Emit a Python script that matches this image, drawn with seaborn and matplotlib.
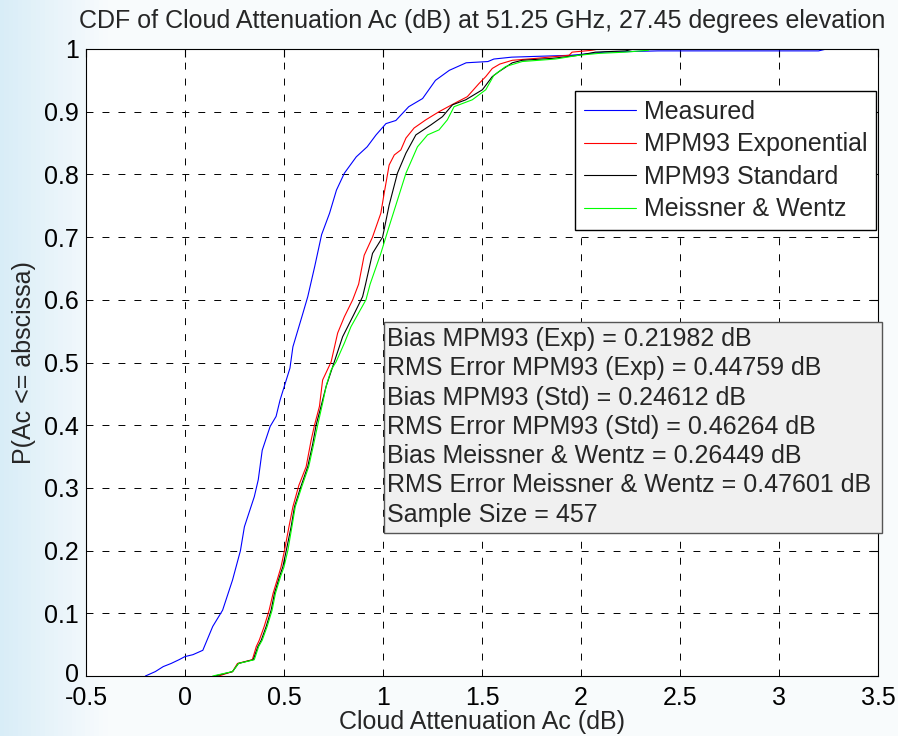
import matplotlib.pyplot as plt
import matplotlib.transforms as mtransforms
import numpy as np
import pandas as pd
import seaborn as sns
from matplotlib.patches import Rectangle

# values
series_names = ["Measured", "MPM93 Exponential", "MPM93 Standard", "Meissner & Wentz"]
series_colors = ["#0000ff", "#ff0000", "#000000", "#00ff00"]

measured_x = [-0.20, -0.15, -0.11, -0.07, -0.03, 0.0, 0.04, 0.09, 0.115, 0.14, 0.19,
              0.24, 0.28, 0.30, 0.35, 0.37, 0.39, 0.43, 0.46, 0.48, 0.53, 0.545, 0.595,
              0.62, 0.655, 0.69, 0.73, 0.765, 0.805, 0.865, 0.92, 0.965, 1.015, 1.065,
              1.13, 1.20, 1.265, 1.335, 1.42, 1.53, 1.56, 1.65, 1.95, 2.12, 2.39, 3.20, 3.24]
measured_p = [0.0, 0.007, 0.015, 0.020, 0.026, 0.031, 0.034, 0.041, 0.060, 0.079, 0.105,
              0.153, 0.200, 0.238, 0.286, 0.313, 0.360, 0.398, 0.414, 0.440, 0.491, 0.525, 0.578,
              0.605, 0.653, 0.704, 0.738, 0.775, 0.802, 0.828, 0.844, 0.863, 0.881, 0.886,
              0.908, 0.921, 0.950, 0.966, 0.978, 0.980, 0.984, 0.987, 0.990, 0.995, 0.997, 0.997, 1.0]

exp_x = [0.17, 0.24, 0.265, 0.34, 0.36, 0.375, 0.40, 0.425, 0.445, 0.47, 0.485, 0.503,
         0.525, 0.545, 0.575, 0.612, 0.637, 0.654, 0.679, 0.695, 0.738, 0.771, 0.805,
         0.847, 0.877, 0.905, 0.947, 0.989, 1.006, 1.031, 1.057, 1.09, 1.116, 1.157,
         1.216, 1.283, 1.359, 1.426, 1.485, 1.519, 1.552, 1.59, 1.653, 1.77, 1.94,
         1.955, 2.056, 2.09]
exp_p = [0.0, 0.007, 0.020, 0.026, 0.047, 0.057, 0.079, 0.105, 0.132, 0.158, 0.174, 0.201,
         0.238, 0.270, 0.304, 0.334, 0.376, 0.400, 0.430, 0.472, 0.501, 0.547, 0.573,
         0.600, 0.625, 0.671, 0.700, 0.738, 0.770, 0.815, 0.831, 0.839, 0.858, 0.874,
         0.887, 0.900, 0.913, 0.924, 0.945, 0.956, 0.969, 0.976, 0.982, 0.985, 0.990,
         0.995, 0.998, 1.0]

std_x = [0.15, 0.24, 0.27, 0.345, 0.368, 0.385, 0.41, 0.435, 0.452, 0.477, 0.494, 0.512,
         0.536, 0.553, 0.585, 0.62, 0.645, 0.662, 0.687, 0.712, 0.754, 0.796, 0.855,
         0.897, 0.912, 0.947, 0.998, 1.031, 1.073, 1.116, 1.166, 1.242, 1.30, 1.351,
         1.418, 1.502, 1.552, 1.586, 1.653, 1.703, 1.854, 1.989, 2.073, 2.224, 2.27]
std_p = [0.0, 0.007, 0.020, 0.026, 0.047, 0.057, 0.079, 0.105, 0.132, 0.158, 0.174, 0.201,
         0.238, 0.270, 0.302, 0.334, 0.370, 0.400, 0.430, 0.461, 0.501, 0.541, 0.578,
         0.605, 0.625, 0.674, 0.700, 0.751, 0.802, 0.834, 0.863, 0.879, 0.892, 0.911,
         0.919, 0.935, 0.956, 0.964, 0.978, 0.982, 0.985, 0.990, 0.995, 0.997, 1.0]

mw_x = [0.14, 0.24, 0.27, 0.35, 0.372, 0.39, 0.415, 0.44, 0.457, 0.482, 0.50, 0.52,
        0.54, 0.557, 0.59, 0.625, 0.65, 0.67, 0.695, 0.715, 0.738, 0.763, 0.805, 0.838,
        0.914, 0.935, 0.989, 1.031, 1.073, 1.116, 1.174, 1.225, 1.283, 1.325, 1.359,
        1.451, 1.519, 1.56, 1.619, 1.703, 1.871, 1.989, 2.09, 2.224, 2.34, 2.35]
mw_p = [0.0, 0.007, 0.020, 0.026, 0.047, 0.057, 0.079, 0.105, 0.132, 0.158, 0.174, 0.201,
        0.238, 0.270, 0.302, 0.334, 0.370, 0.400, 0.435, 0.465, 0.488, 0.501, 0.531, 0.557,
        0.600, 0.625, 0.674, 0.717, 0.759, 0.802, 0.844, 0.863, 0.871, 0.887, 0.908,
        0.919, 0.935, 0.958, 0.972, 0.980, 0.984, 0.990, 0.993, 0.995, 0.998, 1.0]

stats_lines = [
    "Bias MPM93 (Exp) = 0.21982 dB",
    "RMS Error MPM93 (Exp) = 0.44759 dB",
    "Bias MPM93 (Std) = 0.24612 dB",
    "RMS Error MPM93 (Std) = 0.46264 dB",
    "Bias Meissner & Wentz = 0.26449 dB",
    "RMS Error Meissner & Wentz = 0.47601 dB",
    "Sample Size = 457",
]

x_ticks = [-0.5, 0, 0.5, 1, 1.5, 2, 2.5, 3, 3.5]
x_tick_labels = ["-0.5", "0", "0.5", "1", "1.5", "2", "2.5", "3", "3.5"]
y_ticks = [0, 0.1, 0.2, 0.3, 0.4, 0.5, 0.6, 0.7, 0.8, 0.9, 1]
y_tick_labels = ["0", "0.1", "0.2", "0.3", "0.4", "0.5", "0.6", "0.7", "0.8", "0.9", "1"]

frames = []
for name, xs, ps in zip(series_names,
                        [measured_x, exp_x, std_x, mw_x],
                        [measured_p, exp_p, std_p, mw_p]):
    frames.append(pd.DataFrame({"x": xs, "p": ps, "model": name}))
df = pd.concat(frames, ignore_index=True)

sns.set_style("white")
plt.rcParams["font.family"] = ["Liberation Sans", "DejaVu Sans"]
plt.rcParams["lines.scale_dashes"] = False
fs = 18

fig = plt.figure(figsize=(8.98, 7.36), dpi=100)

# pale blurred backdrop like the original screenshot
bg = fig.add_axes([0, 0, 1, 1], zorder=-10)
gx = np.linspace(0, 1, 200)
shade = np.clip(1 - gx / 0.12, 0, 1)[None, :] * np.ones((50, 1))
base = np.array([0.975, 0.985, 0.992])
tint = np.array([0.85, 0.93, 0.97])
img = base[None, None, :] * (1 - shade[..., None]) + tint[None, None, :] * shade[..., None]
bg.imshow(img, aspect="auto", extent=[0, 1, 0, 1])
bg.axis("off")

ax = fig.add_axes([86 / 898, 60 / 736, 792 / 898, 627 / 736])
ax.set_facecolor("white")

sns.lineplot(data=df, x="x", y="p", hue="model", hue_order=series_names,
             palette=dict(zip(series_names, series_colors)), sort=False,
             estimator=None, linewidth=0.8, ax=ax, legend=False)

ax.set_xlim(-0.5, 3.5)
ax.set_ylim(0, 1)
ax.set_xticks(x_ticks)
ax.set_xticklabels(x_tick_labels)
ax.set_yticks(y_ticks)
ax.set_yticklabels(y_tick_labels)
ax.tick_params(direction="in", length=6, width=0.8, labelsize=fs, top=True, right=True,
               colors="black")
ax.tick_params(axis="x", pad=7)
ax.tick_params(axis="y", pad=5)
# lift the bottom "0" a little so it clears "-0.5", as in the original
zero_lbl = ax.get_yticklabels()[0]
zero_lbl.set_transform(zero_lbl.get_transform() +
                       mtransforms.ScaledTranslation(0, 4 / 100, fig.dpi_scale_trans))
ax.grid(True, color="black", linestyle=(0, (5, 6.5)), linewidth=0.7)
for s in ax.spines.values():
    s.set_color("black")
    s.set_linewidth(0.8)

ax.set_title("CDF of Cloud Attenuation Ac (dB) at 51.25 GHz, 27.45 degrees elevation",
             fontsize=fs, pad=15)
ax.set_xlabel("Cloud Attenuation Ac (dB)", fontsize=fs, labelpad=0)
ax.set_ylabel("P(Ac <= abscissa)", fontsize=fs, labelpad=6)

handles = [plt.Line2D([], [], color=c, linewidth=0.8) for c in series_colors]
leg = ax.legend(handles, series_names, loc="upper right", bbox_to_anchor=(0.9975, 0.933),
                fontsize=fs, frameon=True, fancybox=False, framealpha=1, edgecolor="black",
                handlelength=2.1, handletextpad=0.3, labelspacing=0.34, borderpad=0.35,
                borderaxespad=0)
leg.get_frame().set_linewidth(1.0)

# statistics box
box_left, box_right = (384 - 86) / 792, (882 - 86) / 792
box_top, box_bottom = (676 - 322) / 627, (676 - 533) / 627
ax.add_patch(Rectangle((box_left, box_bottom), box_right - box_left, box_top - box_bottom,
                       transform=ax.transAxes, facecolor="#f0f0f0", edgecolor="#555555",
                       linewidth=1.0, clip_on=False, zorder=5))
step = 29.3 / 627
for i, line in enumerate(stats_lines):
    ax.text((387 - 86) / 792, (676 - 339) / 627 - i * step, line, transform=ax.transAxes,
            fontsize=fs, va="center", ha="left", zorder=6)

fig.savefig("out.png", dpi=100)
